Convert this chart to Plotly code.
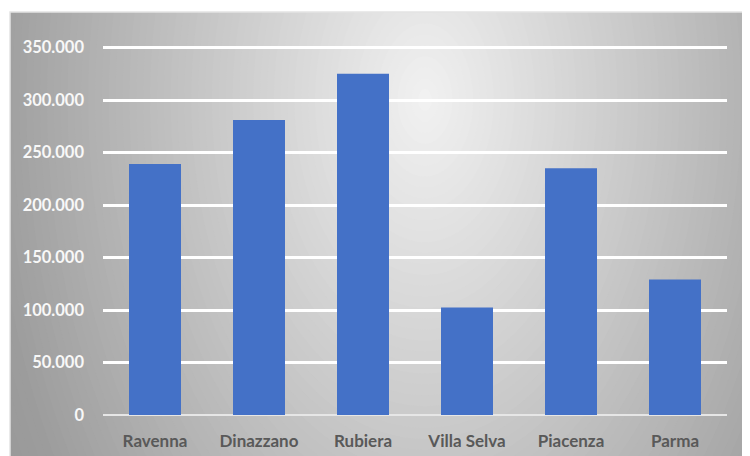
import plotly.graph_objects as go

# ---- data ----
categories = ["Ravenna", "Dinazzano", "Rubiera", "Villa Selva", "Piacenza", "Parma"]
values = [239000, 281000, 325000, 102500, 235000, 129000]
y_tick_vals = [0, 50000, 100000, 150000, 200000, 250000, 300000, 350000]
y_tick_text = ["0", "50.000", "100.000", "150.000", "200.000", "250.000", "300.000", "350.000"]

# ---- layout geometry (page pixels; the page body has an 8px margin) ----
OFF = 8
W, H = 750 - OFF, 456 - OFF
PL, PR, PT, PB = 103, 727, 46, 415   # plot area in page pixels
L, T = PL - OFF, PT - OFF
R, B = W - (PR - OFF), H - (PB - OFF)
PW, PH = PR - PL, PB - PT


def px_x(x):
    return (x - PL) / PW


def px_y(y):
    return (PB - y) / PH


def lerp_col(c1, c2, t):
    return "rgb({},{},{})".format(*[round(a + (b - a) * t) for a, b in zip(c1, c2)])


light = (242, 242, 242)
dark = (152, 152, 152)

shapes = []
# radial background gradient via concentric ellipses
cx, cy, rx, ry = 425, 100, 440, 700
N = 80
tmax = 1.25
for i in range(N):
    t = tmax * (N - i) / N
    k = t * 0.95 if t <= 1 else 0.95 + (min(t, 1.15) - 1) * 0.4
    shapes.append(dict(
        type="circle", xref="paper", yref="paper", layer="below",
        x0=px_x(cx - rx * t), x1=px_x(cx + rx * t),
        y0=px_y(cy + ry * t), y1=px_y(cy - ry * t),
        fillcolor=lerp_col(light, dark, k), line=dict(width=0),
    ))
# white margins outside the chart area (left and top)
shapes.append(dict(type="rect", xref="paper", yref="paper", layer="below",
                   x0=px_x(-50), x1=px_x(10), y0=px_y(600), y1=px_y(-50),
                   fillcolor="white", line=dict(width=0)))
shapes.append(dict(type="rect", xref="paper", yref="paper", layer="below",
                   x0=px_x(-50), x1=px_x(900), y0=px_y(12), y1=px_y(-50),
                   fillcolor="white", line=dict(width=0)))
# light border of the chart area
shapes.append(dict(type="rect", xref="paper", yref="paper", layer="below",
                   x0=px_x(10), x1=px_x(760), y0=px_y(470), y1=px_y(12),
                   fillcolor="rgba(0,0,0,0)", line=dict(width=1.5, color="#e4e4e4")))

fig = go.Figure()
fig.add_trace(go.Bar(
    x=categories, y=values,
    marker=dict(color="#4471c7", line=dict(width=0)),
    width=0.5,
))

fig.update_layout(
    width=W, height=H,
    margin=dict(l=L, r=R, t=T, b=B, pad=0, autoexpand=False),
    paper_bgcolor="white",
    plot_bgcolor="rgba(0,0,0,0)",
    shapes=shapes,
    showlegend=False,
    bargap=0.5,
    font=dict(family="Lato", size=16),
    xaxis=dict(
        automargin=False,
        showgrid=False, showline=False, zeroline=False,
        tickfont=dict(family="Lato", size=17, color="#595959", weight="bold"),
        ticks="", ticklabelstandoff=14,
    ),
    yaxis=dict(
        automargin=False,
        range=[0, 351500],
        tickvals=y_tick_vals, ticktext=y_tick_text,
        showgrid=True, gridcolor="white", gridwidth=2.5,
        zeroline=True, zerolinecolor="#e6e6e6", zerolinewidth=1.5,
        showline=False, ticks="", ticklabelstandoff=18,
        tickfont=dict(family="Lato", size=16.5, color="#f8f8f8", weight="bold"),
    ),
)

fig.write_html("out.html")
